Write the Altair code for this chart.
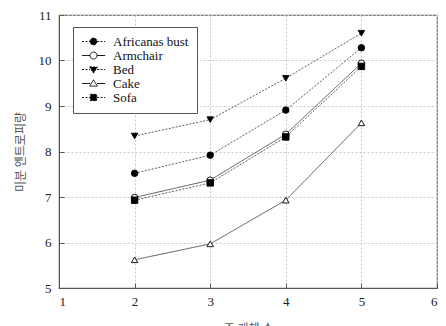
import altair as alt
import pandas as pd

series = ["Africanas bust", "Armchair", "Bed", "Cake", "Sofa"]
x_values = [2, 3, 4, 5]
africanas_bust = [7.52, 7.92, 8.91, 10.28]
armchair = [6.99, 7.37, 8.38, 9.94]
bed = [8.34, 8.70, 9.61, 10.60]
cake = [5.62, 5.97, 6.93, 8.63]
sofa = [6.93, 7.31, 8.32, 9.87]
x_ticks = [1, 2, 3, 4, 5, 6]
y_ticks = [5, 6, 7, 8, 9, 10, 11]

values = [africanas_bust, armchair, bed, cake, sofa]
rows = []
for name, ys in zip(series, values):
    for xv, yv in zip(x_values, ys):
        rows.append({"n": xv, "h": yv, "series": name})
df = pd.DataFrame(rows)

serif = "Liberation Serif"
kr = "Noto Sans CJK KR"

dash_range = [[2, 1.5], [1, 0], [2, 1.5], [1, 0], [2, 1.5]]
fill_range = ["black", "white", "black", "white", "black"]
stroke_range = ["black", "black", "black", "black", "black"]

line_seg = "M-3.3,0L-1,0M1,0L3.3,0"
p_circle = "M-1,0A1,1,0,1,1,1,0A1,1,0,1,1,-1,0Z"
p_tdown = "M-1.1,-0.75L1.1,-0.75L0,1.05Z"
p_tup = "M-1.1,0.75L1.1,0.75L0,-1.05Z"
p_square = "M-0.9,-0.9L0.9,-0.9L0.9,0.9L-0.9,0.9Z"
legend_shapes = [line_seg + p_circle, line_seg + p_circle, line_seg + p_tdown,
                 line_seg + p_tup, line_seg + p_square]

shape_calc = ("datum.series == 'Bed' ? 'triangle-down' : datum.series == 'Cake' ? 'triangle-up' : "
              "datum.series == 'Sofa' ? 'square' : 'circle'")

x_scale = alt.Scale(domain=[1, 6], nice=False)
y_scale = alt.Scale(domain=[5, 11], nice=False)
dash_scale = alt.Scale(domain=series, range=dash_range)
fill_scale = alt.Scale(domain=series, range=fill_range)
stroke_scale = alt.Scale(domain=series, range=stroke_range)

leg = alt.Legend(
    title=None, orient="none", legendX=14, legendY=12,
    padding=8, symbolOffset=6, labelOffset=13, rowPadding=-1,
    symbolSize=49, symbolStrokeWidth=0.9,
    symbolOpacity=1,
    labelFont=serif, labelFontSize=13, labelColor="#111",
    strokeColor="#555", fillColor="white")

base = alt.Chart(df)

legend_layer = base.mark_point(
    filled=True, strokeWidth=0.9, opacity=0
).encode(
    x=alt.X("n:Q", scale=x_scale, axis=None),
    y=alt.Y("h:Q", scale=y_scale, axis=None),
    shape=alt.Shape("series:N", scale=alt.Scale(domain=series, range=legend_shapes), legend=leg),
    fill=alt.Fill("series:N", scale=fill_scale, legend=leg),
    stroke=alt.Stroke("series:N", scale=stroke_scale, legend=leg),
    strokeDash=alt.StrokeDash("series:N", scale=dash_scale, legend=leg),
)

lines = base.mark_line(color="#333", strokeWidth=0.8).encode(
    x=alt.X("n:Q", scale=x_scale,
            axis=alt.Axis(values=x_ticks, title="조 개체 수", format="d",
                          grid=True, gridColor="#c8c8c8", gridDash=[2, 2],
                          tickSize=0, labelPadding=7, labelFont=serif,
                          labelFontSize=13, labelColor="#222",
                          domainColor="#555", titleFont=kr, titleFontSize=12,
                          titleFontWeight="normal", titleColor="#555",
                          titlePadding=15)),
    y=alt.Y("h:Q", scale=y_scale,
            axis=alt.Axis(values=y_ticks, title="미분 엔트로피량", format="d",
                          grid=True, gridColor="#c8c8c8", gridDash=[2, 2],
                          tickSize=0, labelPadding=8, labelFont=serif,
                          labelFontSize=13, labelColor="#222",
                          domainColor="#555", titleFont=kr, titleFontSize=12,
                          titleFontWeight="normal", titleColor="#555",
                          titlePadding=11)),
    detail="series:N",
    strokeDash=alt.StrokeDash("series:N", scale=dash_scale, legend=leg),
)

points = base.transform_calculate(shp=shape_calc).mark_point(
    filled=True, size=42, strokeWidth=0.9, opacity=1
).encode(
    x=alt.X("n:Q", scale=x_scale,
            axis=alt.Axis(orient="top", offset=-273, values=x_ticks, labels=False,
                          domain=False, grid=False, tickSize=5, tickColor="#555",
                          title=None)),
    y=alt.Y("h:Q", scale=y_scale,
            axis=alt.Axis(orient="right", offset=-378, values=y_ticks, labels=False,
                          domain=False, grid=False, tickSize=5, tickColor="#555",
                          title=None)),
    shape=alt.Shape("shp:N", scale=None),
    fill=alt.Fill("series:N", scale=fill_scale, legend=leg),
    stroke=alt.Stroke("series:N", scale=stroke_scale, legend=leg),
)

chart = alt.layer(legend_layer, lines, points).resolve_axis(
    x="independent", y="independent"
).properties(
    width=378, height=273,
    autosize=alt.AutoSizeParams(type="none"),
    padding={"left": 51, "top": 7, "right": 1, "bottom": 48},
).configure_view(stroke="#666", strokeWidth=1.2)

chart.save("out.html", embed_options={"renderer": "svg", "actions": False})
